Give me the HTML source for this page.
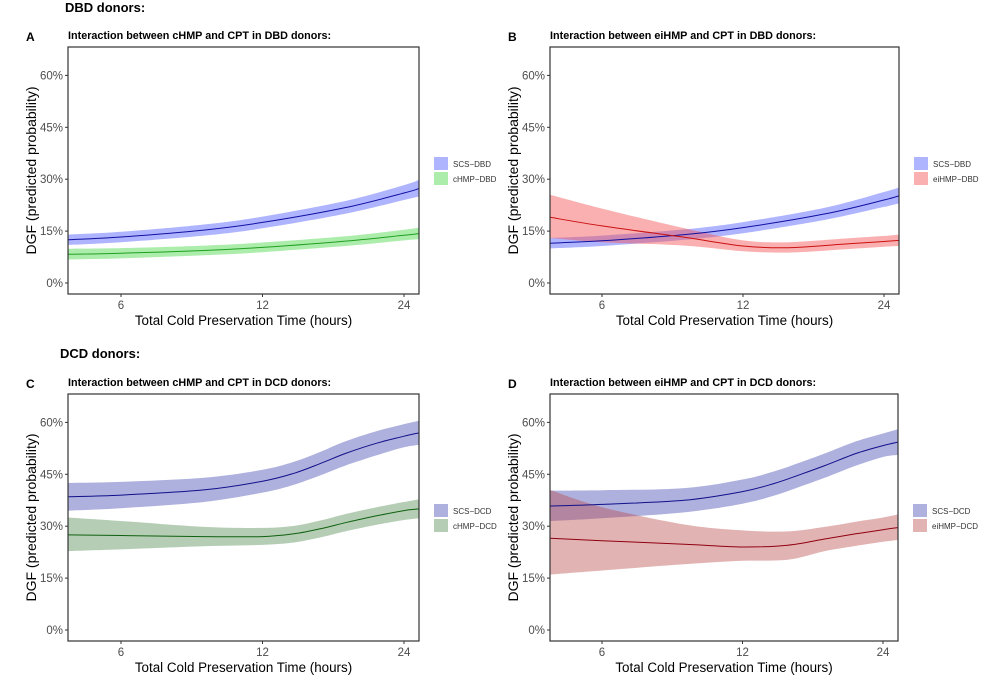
<!DOCTYPE html>
<html><head><meta charset="utf-8"><style>
html,body{margin:0;padding:0;background:#fff;}
svg{display:block;font-family:"Liberation Sans",Arial,sans-serif;}
</style></head><body>
<svg id="s" width="988" height="675" viewBox="0 0 988 675" xmlns="http://www.w3.org/2000/svg">
<text x="65" y="12" font-size="13" font-weight="bold">DBD donors:</text>
<text x="60" y="358" font-size="13" font-weight="bold">DCD donors:</text>
</svg>
<script>
const S=document.getElementById('s');const NS='http://www.w3.org/2000/svg';
function el(t,a,txt){const e=document.createElementNS(NS,t);for(const k in a)e.setAttribute(k,a[k]);if(txt!==undefined)e.textContent=txt;S.appendChild(e);return e;}
function spline(pts){let d='';for(let i=0;i<pts.length-1;i++){const p0=pts[Math.max(i-1,0)],p1=pts[i],p2=pts[i+1],p3=pts[Math.min(i+2,pts.length-1)];
const c1=[p1[0]+(p2[0]-p0[0])/6,p1[1]+(p2[1]-p0[1])/6],c2=[p2[0]-(p3[0]-p1[0])/6,p2[1]-(p3[1]-p1[1])/6];
if(i==0)d+='M'+p1[0].toFixed(1)+','+p1[1].toFixed(1);d+='C'+c1[0].toFixed(1)+','+c1[1].toFixed(1)+' '+c2[0].toFixed(1)+','+c2[1].toFixed(1)+' '+p2[0].toFixed(1)+','+p2[1].toFixed(1);}return d;}
function panel(o){
 const L=o.L,R=o.R,T=o.T,B=o.B,y0=o.y0,x6=o.x6,dx=o.dx;
 const X=t=>x6+dx*Math.log2(t/6), Y=v=>y0-v*3.46;
 const tl=6*Math.pow(2,(L-x6)/dx), tr=6*Math.pow(2,(R-x6)/dx);
 el('text',{x:L-42,y:T-6,'font-size':12,'font-weight':'bold'},o.letter);
 el('text',{x:L,y:T-8,'font-size':10.8,'font-weight':'bold'},o.title);
 const cp=el('clipPath',{id:'c'+o.letter});const r=document.createElementNS(NS,'rect');r.setAttribute('x',L);r.setAttribute('y',T);r.setAttribute('width',R-L);r.setAttribute('height',B-T);cp.appendChild(r);
 o.series.forEach(s=>{
  const ts=s.t.map(t=>t=='L'?tl:t=='R'?tr:t);
  const up=ts.map((t,i)=>[X(t),Y(s.hi[i])]),lo=ts.map((t,i)=>[X(t),Y(s.lo[i])]).reverse();
  const dl=spline(lo).replace(/^M/,'L');
  el('path',{d:spline(up)+dl+'Z',fill:s.fill,'clip-path':'url(#c'+o.letter+')'});
 });
 o.series.forEach(s=>{
  const ts=s.t.map(t=>t=='L'?tl:t=='R'?tr:t);
  el('path',{d:spline(ts.map((t,i)=>[X(t),Y(s.m[i])])),fill:'none',stroke:s.line,'stroke-width':1,'clip-path':'url(#c'+o.letter+')'});
 });
 el('rect',{x:L,y:T,width:R-L,height:B-T,fill:'none',stroke:'#333','stroke-width':1.2});
 [0,15,30,45,60].forEach(v=>{el('line',{x1:L-3,x2:L,y1:Y(v),y2:Y(v),stroke:'#333'});el('text',{x:L-5,y:Y(v)+4,'font-size':11.5,fill:'#4d4d4d','text-anchor':'end'},v+'%');});
 [6,12,24].forEach(t=>{el('line',{x1:X(t),x2:X(t),y1:B,y2:B+3,stroke:'#333'});el('text',{x:X(t),y:B+15,'font-size':11.5,fill:'#4d4d4d','text-anchor':'middle'},t);});
 el('text',{x:(L+R)/2,y:B+31,'font-size':13.4,'text-anchor':'middle'},'Total Cold Preservation Time (hours)');
 const yc=(T+B)/2;el('text',{x:0,y:0,'font-size':14,'text-anchor':'middle',transform:'translate('+(L-32)+','+yc+') rotate(-90)'},'DGF (predicted probability)');
 o.series.forEach((s,i)=>{el('rect',{x:R+15,y:o.lgY+i*15,width:14,height:13,fill:s.fill});el('text',{x:R+34,y:o.lgY+i*15+10,'font-size':8,fill:'#333'},s.name);});
}
const bluD='rgba(95,105,255,0.5)',grnD='rgba(70,215,70,0.45)',redD='rgba(245,80,80,0.45)';
const bluC='rgba(85,90,185,0.48)',grnC='rgba(80,140,80,0.43)',redC='rgba(185,75,75,0.42)';
panel({letter:'A',title:'Interaction between cHMP and CPT in DBD donors:',L:68,R:419,T:47,B:294,y0:283,x6:121,dx:141.5,lgY:157,series:[
 {name:'SCS\u2212DBD',fill:bluD,line:'#1010a0',t:['L',6,9,12,18,24,'R'],m:[12.5,13.3,15.3,17.5,21.8,26,27.3],hi:[14,14.8,16.9,19.2,23.7,28.3,29.8],lo:[11,11.8,13.7,15.8,20,24,25]},
 {name:'cHMP\u2212DBD',fill:grnD,line:'#20a020',t:['L',6,9,12,18,24,'R'],m:[8.3,8.6,9.4,10.3,12.1,13.8,14.3],hi:[9.9,10.1,10.8,11.7,13.5,15.4,16],lo:[6.8,7.1,8,8.9,10.7,12.3,12.7]}]});
panel({letter:'B',title:'Interaction between eiHMP and CPT in DBD donors:',L:550,R:899,T:47,B:294,y0:283,x6:602,dx:141,lgY:157,series:[
 {name:'SCS\u2212DBD',fill:bluD,line:'#1010a0',t:['L',6,9,12,18,24,'R'],m:[11.5,12.2,14,16,20,24,25.2],hi:[13,13.7,15.5,17.6,21.8,26.3,27.6],lo:[10,10.7,12.5,14.4,18.3,22,23]},
 {name:'eiHMP\u2212DBD',fill:redD,line:'#cc1010',t:['L',6,9,12,15,20,24,'R'],m:[19,16.5,13.2,10.7,10.2,11.3,12,12.3],hi:[25.5,21.5,15.8,12.3,11.8,12.9,13.6,14],lo:[13,11.8,10.8,9.2,8.8,9.8,10.5,10.7]}]});
panel({letter:'C',title:'Interaction between cHMP and CPT in DCD donors:',L:68,R:419,T:394,B:641,y0:630,x6:121,dx:141.5,lgY:504,series:[
 {name:'SCS\u2212DCD',fill:bluC,line:'#10108a',t:['L',6,9,12,14,16,18,21,24,'R'],m:[38.5,39,40.5,43,45.3,48.2,51,54,56,57],hi:[42.5,42.8,44,46.3,48.6,51.6,54.5,57.5,59.5,60.5],lo:[34.5,35.2,37,39.7,42,44.8,47.5,50.5,52.8,53.5]},
 {name:'cHMP\u2212DCD',fill:grnC,line:'#106010',t:['L',6,9,12,14,16,18,21,24,'R'],m:[27.5,27.3,27,27,27.8,29.3,31,33,34.5,35],hi:[32.5,31.5,29.8,29.5,30.1,31.7,33.5,35.5,37,37.8],lo:[22.8,23.3,24.2,24.6,25.3,26.8,28.5,30.4,31.8,32.3]}]});
panel({letter:'D',title:'Interaction between eiHMP and CPT in DCD donors:',L:550,R:898,T:394,B:641,y0:630,x6:602,dx:140.5,lgY:504,series:[
 {name:'SCS\u2212DCD',fill:bluC,line:'#10108a',t:['L',6,9,12,14,16,18,21,24,'R'],m:[35.8,36.3,37.5,40,42.3,45,47.5,51,53.3,54.3],hi:[40.3,40.4,41,43.5,45.8,48.5,51,54.5,56.8,58],lo:[31.5,32.3,34,36.5,38.8,41.5,44,47.5,50,50.6]},
 {name:'eiHMP\u2212DCD',fill:redC,line:'#900010',t:['L',6,9,12,15,18,21,24,'R'],m:[26.5,25.8,24.8,24,24.5,26.3,27.8,29,29.6],hi:[40.5,35.5,30.5,28.8,28.5,29.8,31.3,32.5,33.4],lo:[16,17.2,19,20,20.3,22.8,24.3,25.5,26]}]});
</script>
</body></html>
